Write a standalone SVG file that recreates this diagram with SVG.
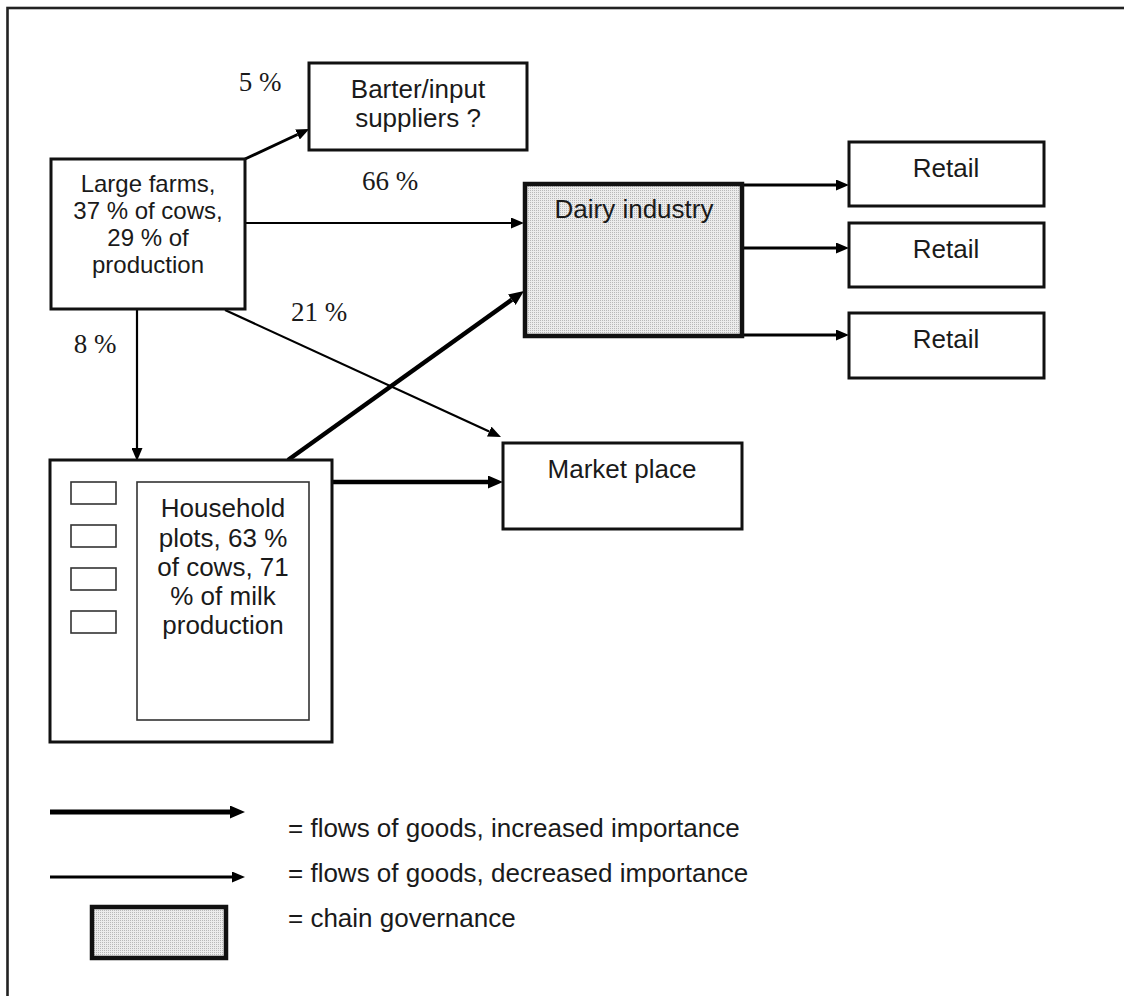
<svg xmlns="http://www.w3.org/2000/svg" width="1124" height="996" viewBox="0 0 1124 996">
  <style>
    .box { fill: #ffffff; stroke: #111111; stroke-width: 3; }
    .gov { fill: url(#stipple); stroke: #111111; stroke-width: 4.5; }
    .thin-box { fill: #ffffff; stroke: #333333; stroke-width: 1.6; }
    .label { font-family: "Liberation Sans", Arial, sans-serif; font-size: 26px; fill: #1a1a1a; text-anchor: middle; }
    .label-sm { font-family: "Liberation Sans", Arial, sans-serif; font-size: 24px; fill: #1a1a1a; text-anchor: middle; }
    .pct { font-family: "Liberation Serif", "Times New Roman", serif; font-size: 27px; fill: #1a1a1a; text-anchor: middle; }
    .legend { font-family: "Liberation Sans", Arial, sans-serif; font-size: 26px; fill: #1a1a1a; }
    .flow { fill: none; stroke: #000000; stroke-width: 2.2; marker-end: url(#head); }
    .flow-mid { fill: none; stroke: #000000; stroke-width: 3; marker-end: url(#head); }
    .flow-strong { fill: none; stroke: #000000; stroke-width: 4.5; marker-end: url(#head-bold); }
  </style>
  <defs>
    <pattern id="stipple" width="2" height="2" patternUnits="userSpaceOnUse">
      <rect width="2" height="2" fill="#ececec"/>
      <rect width="1" height="1" fill="#b8b8b8"/>
    </pattern>
    <marker id="head" markerUnits="userSpaceOnUse" markerWidth="13" markerHeight="11" refX="0" refY="5.5" orient="auto">
      <path d="M0,0 L13,5.5 L0,11 z" fill="#000000"/>
    </marker>
    <marker id="head-bold" markerUnits="userSpaceOnUse" markerWidth="15" markerHeight="13" refX="0" refY="6.5" orient="auto">
      <path d="M0,0 L15,6.5 L0,13 z" fill="#000000"/>
    </marker>
  </defs>

  <rect width="1124" height="996" fill="#ffffff"/>
  <!-- page frame (only top and left edges fall inside the sheet) -->
  <rect x="7.5" y="8" width="1130" height="1000" fill="none" stroke="#222222" stroke-width="2.6"/>

  <!-- connectors -->
  <g id="connectors">
    <line class="flow-mid" x1="245" y1="159" x2="297.5" y2="134.5"/>
    <line class="flow" x1="245" y1="223" x2="511" y2="223"/>
    <line class="flow" x1="137" y1="310" x2="137" y2="448"/>
    <line class="flow" x1="225" y1="310" x2="489.2" y2="431.6"/>
    <line class="flow-strong" x1="288" y1="460" x2="511.8" y2="299.7"/>
    <line class="flow-strong" x1="332" y1="482" x2="488" y2="482"/>
    <line class="flow-mid" x1="742" y1="185" x2="836" y2="185"/>
    <line class="flow-mid" x1="742" y1="248" x2="836" y2="248"/>
    <line class="flow-mid" x1="742" y1="335" x2="836" y2="335"/>
  </g>

  <!-- flow shares -->
  <g id="shares">
    <text class="pct" x="260" y="91">5 %</text>
    <text class="pct" x="390" y="190">66 %</text>
    <text class="pct" x="319" y="321">21 %</text>
    <text class="pct" x="95" y="353">8 %</text>
  </g>

  <g id="barter">
    <rect class="box" x="309" y="63" width="218" height="87"/>
    <text class="label" x="418" y="98">Barter/input</text>
    <text class="label" x="418" y="127">suppliers ?</text>
  </g>

  <g id="large-farms">
    <rect class="box" x="51" y="159" width="194" height="150"/>
    <text class="label-sm" x="148" y="192">Large farms,</text>
    <text class="label-sm" x="148" y="219">37 % of cows,</text>
    <text class="label-sm" x="148" y="246">29 % of</text>
    <text class="label-sm" x="148" y="273">production</text>
  </g>

  <g id="dairy-industry">
    <rect class="gov" x="525" y="184" width="217" height="152"/>
    <text class="label" x="634" y="218">Dairy industry</text>
  </g>

  <g id="retail-1">
    <rect class="box" x="849" y="142" width="195" height="64"/>
    <text class="label" x="946" y="177">Retail</text>
  </g>
  <g id="retail-2">
    <rect class="box" x="849" y="223" width="195" height="64"/>
    <text class="label" x="946" y="258">Retail</text>
  </g>
  <g id="retail-3">
    <rect class="box" x="849" y="313" width="195" height="65"/>
    <text class="label" x="946" y="348">Retail</text>
  </g>

  <g id="market-place">
    <rect class="box" x="503" y="443" width="239" height="86"/>
    <text class="label" x="622" y="478">Market place</text>
  </g>

  <g id="household-plots">
    <rect class="box" x="50" y="460" width="282" height="282"/>
    <rect class="thin-box" x="71" y="482" width="45" height="22"/>
    <rect class="thin-box" x="71" y="525" width="45" height="22"/>
    <rect class="thin-box" x="71" y="568" width="45" height="22"/>
    <rect class="thin-box" x="71" y="611" width="45" height="22"/>
    <rect class="thin-box" x="137" y="482" width="172" height="238"/>
    <text class="label" x="223" y="517">Household</text>
    <text class="label" x="223" y="547">plots, 63 %</text>
    <text class="label" x="223" y="576">of cows, 71</text>
    <text class="label" x="223" y="605">% of milk</text>
    <text class="label" x="223" y="634">production</text>
  </g>

  <!-- key -->
  <g id="legend">
    <line x1="50" y1="812" x2="230" y2="812" stroke="#000000" stroke-width="5" marker-end="url(#head-bold)"/>
    <text class="legend" x="288" y="837">= flows of goods, increased importance</text>
    <line x1="50" y1="877" x2="232" y2="877" stroke="#000000" stroke-width="3.2" marker-end="url(#head)"/>
    <text class="legend" x="288" y="882">= flows of goods, decreased importance</text>
    <rect class="gov" x="92" y="907" width="134" height="51"/>
    <text class="legend" x="288" y="927">= chain governance</text>
  </g>
</svg>
